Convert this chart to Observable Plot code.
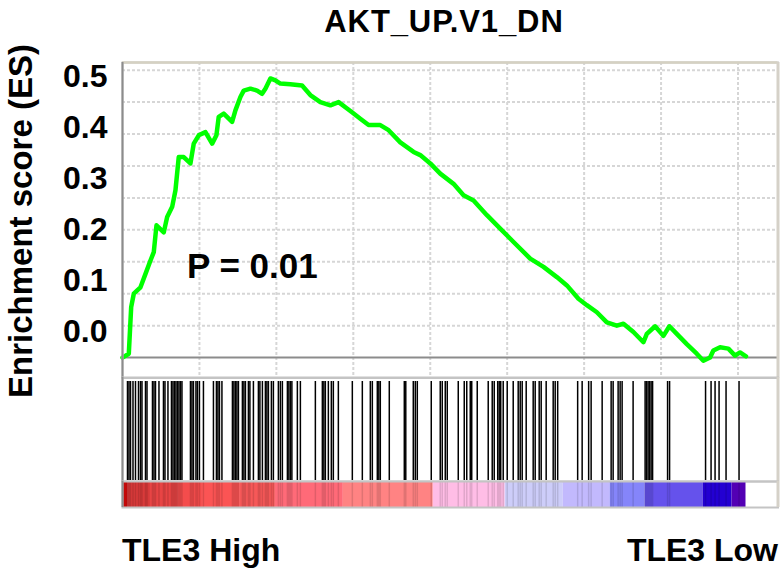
<!DOCTYPE html>
<html>
<head>
<meta charset="utf-8">
<script src="https://cdn.jsdelivr.net/npm/d3@7"></script>
<script src="https://cdn.jsdelivr.net/npm/@observablehq/plot@0.6"></script>
<style>
  html, body { margin: 0; padding: 0; background: #fff; }
  #chart { position: relative; width: 781px; height: 569px; overflow: hidden; background: #fff;
           font-family: "Liberation Sans", Arial, sans-serif; font-weight: bold; color: #000; }
  #chart > svg, #chart > div { position: absolute; }
  .txt { white-space: nowrap; line-height: 1; }
</style>
</head>
<body>
<div id="chart"></div>
<script>
// ---------- data ----------
const titleText = "AKT_UP.V1_DN";
const yTitle = "Enrichment score (ES)";
const pText = "P = 0.01";
const leftLabel = "TLE3 High";
const rightLabel = "TLE3 Low";

// running enrichment score: gene rank in ranked list and ES value
const esRank = [0,205,282,367,584,747,909,1016,1104,1341,1451,1614,1721,1828,1990,2208,2315,2477,2695,2913,3052,3127,3289,3562,3669,3831,3939,4156,4374,4536,4643,4806,4968,5130,5455,5835,6104,6429,6754,7023,7296,7458,7728,7997,8377,8647,9027,9459,9676,10001,10325,10757,11082,11407,11842,12274,12706,13248,13680,14115,14440,14816,15089,15414,15739,16063,16278,16602,16927,17037,17307,17576,17771,18011,18336,18660,18875,19093,19200,19417,19687,19904,20066,20260];
const esScore = [0,0.006,0.079,0.100,0.110,0.131,0.152,0.165,0.207,0.196,0.220,0.236,0.262,0.314,0.314,0.304,0.335,0.348,0.353,0.335,0.348,0.377,0.382,0.369,0.387,0.408,0.418,0.421,0.418,0.413,0.421,0.437,0.434,0.429,0.428,0.426,0.411,0.400,0.395,0.400,0.390,0.384,0.374,0.364,0.364,0.356,0.337,0.322,0.317,0.304,0.288,0.272,0.254,0.246,0.223,0.202,0.181,0.155,0.142,0.126,0.113,0.092,0.082,0.071,0.055,0.050,0.053,0.040,0.024,0.037,0.049,0.034,0.049,0.037,0.021,0.006,-0.005,0.000,0.011,0.016,0.014,0.003,0.008,0.002];

// ranks of the gene-set members (hits)
const hitRanks = [162,211,260,341,422,520,584,633,747,796,974,1023,1072,1185,1331,1380,1477,1591,1640,1688,1737,1786,1835,1883,1932,2208,2257,2305,2387,2435,2500,2630,2955,3052,3101,3150,3231,3572,3620,3669,3718,3767,3896,3945,3994,4091,4140,4254,4416,4465,4546,4643,4692,4741,4838,4903,5065,5130,5195,5358,5406,5455,5504,5682,5780,6267,6494,6543,6591,6689,6786,6851,7014,7468,7793,8053,8118,8280,8329,8377,8669,9157,9205,9449,9514,9579,10033,10325,10390,10488,10553,10910,11105,11186,11300,11348,11527,11884,12014,12079,12192,12241,12290,12371,12501,12696,12858,12923,12988,13118,13345,13410,13540,13605,13767,13995,14060,14141,14790,14936,15147,15228,15586,15878,15943,16105,16170,16235,16592,16982,17030,17079,17128,17177,17225,17712,17777,18946,19125,19255,19385,19612,20034];

// ranked-list metric colour bar: segments (rank start, rank end, metric level)
const segStart  = [0,   162,  909,  1818, 2598, 3831, 4968, 7176,  10098, 12436, 14319, 15846, 16982, 18865, 19807];
const segEnd    = [162, 909,  1818, 2598, 3831, 4968, 7176, 10098, 12436, 14319, 15846, 16982, 18865, 19807, 20260];
const segMetric = [0.95,0.8,  0.65, 0.55, 0.45, 0.38, 0.25, 0.15,  0.05,  -0.05, -0.15, -0.3,  -0.5,  -0.75, -0.95];

// axis ticks / grid
const rankDomain = [0, 21300];
const rankGrid = [2500,5000,7500,10000,12500,15000,17500,20000];
const esDomain = [-0.032, 0.462];
const esGrid = [0.05,0.10,0.15,0.20,0.25,0.30,0.35,0.40,0.45];
const esTickLabels = [0.0,0.1,0.2,0.3,0.4,0.5];

// ---------- styles ----------
const metricColors = ["#c40808","#d93a3a","#e84444","#f44c4c","#fb5454","#f65858","#ff6a78","#ff8383","#ffbde6","#cdcdf9","#c2b9fd","#8585fa","#6552ec","#2300d2","#5300b4"];
const W = 781, ML = 122, MR = 3.5;
const svgStyle = {background: "transparent", overflow: "visible", fontFamily: "'Liberation Sans', Arial, sans-serif"};
const gridStyle = {stroke: "#d6d6d6", strokeWidth: 2, strokeDasharray: "3,2"};
const borders = (top) => [
  Plot.frame({stroke: "#c4c4c4", strokeWidth: 2}),
  ...(top ? [Plot.ruleY([esDomain[1]], {stroke: "#d5d1c2", strokeWidth: 2.5})] : []),
  Plot.ruleX([rankDomain[0]], {stroke: "#8c8c8c", strokeWidth: 2}),
  Plot.ruleX([rankDomain[1]], {stroke: "#d5d1c8", strokeWidth: 3})
];

const chart = document.getElementById("chart");
function place(el, top, left) { el.style.top = top + "px"; el.style.left = left + "px"; chart.appendChild(el); }

// ---------- upper panel: running ES ----------
const esData = esRank.map((r, i) => ({rank: r, es: esScore[i]}));
const plotA = Plot.plot({
  width: W, height: 380, marginLeft: ML, marginRight: MR, marginTop: 62, marginBottom: 2.5,
  x: {domain: rankDomain, axis: null},
  y: {domain: esDomain, axis: null},
  style: svgStyle,
  marks: [
    Plot.ruleY(esGrid, gridStyle),
    Plot.ruleX(rankGrid, gridStyle),
    Plot.ruleY([0], {stroke: "#8c8c8c", strokeWidth: 2}),
    Plot.line(esData, {x: "rank", y: "es", stroke: "#00ff00", strokeWidth: 4.5, strokeLinejoin: "round", strokeLinecap: "round"}),
    ...borders(true)
  ]
});
place(plotA, 0, 0);

// ---------- y tick labels (hand-placed in the original figure) ----------
const plotB = Plot.plot({
  width: 122, height: 360, marginLeft: 112, marginRight: 0, marginTop: 76, marginBottom: 29,
  y: {domain: [0, 0.5]},
  style: svgStyle,
  marks: [
    Plot.axisY(esTickLabels, {anchor: "left", tickSize: 0, tickPadding: 5, tickFormat: d3.format(".1f"),
      fontSize: 32, fontWeight: "bold", fill: "#000", label: null})
  ]
});
place(plotB, 0, 0);

// ---------- hits panel ----------
const plotC = Plot.plot({
  width: W, height: 104, marginLeft: ML, marginRight: MR, marginTop: 0, marginBottom: 0,
  x: {domain: rankDomain, axis: null},
  style: svgStyle,
  marks: [
    Plot.ruleX(hitRanks, {stroke: "#000", strokeWidth: 1.5, insetTop: 4, insetBottom: 1}),
    ...borders(false)
  ]
});
place(plotC, 377, 0);

// ---------- ranked list metric colour bar ----------
const segData = segStart.map((s, i) => ({start: s, end: segEnd[i], metric: segMetric[i]}));
const plotD = Plot.plot({
  width: W, height: 26, marginLeft: ML, marginRight: MR, marginTop: 0, marginBottom: 0,
  x: {domain: rankDomain, axis: null},
  color: {type: "ordinal", domain: segMetric, range: metricColors},
  style: svgStyle,
  marks: [
    Plot.rectX(segData, {x1: "start", x2: "end", fill: "metric"}),
    Plot.ruleX(hitRanks, {stroke: "#000", strokeOpacity: 0.12, strokeWidth: 1.5}),
    ...borders(false)
  ]
});
place(plotD, 481, 0);

// ---------- texts ----------
function txt(s, size, css) {
  const d = document.createElement("div");
  d.className = "txt"; d.textContent = s; d.style.fontSize = size + "px";
  Object.assign(d.style, css || {});
  return d;
}
// title (baseline ~32)
place(txt(titleText, 31, {transform: "translateX(-50%)", letterSpacing: "0.9px"}), 32 - 0.8465 * 31, 444);
// P value (baseline ~278)
place(txt(pText, 35), 278 - 0.8465 * 35, 187);
// group labels (baseline ~561)
place(txt(leftLabel, 32), 561 - 0.8465 * 32, 122);
const rl = txt(rightLabel, 32, {left: "auto", right: "3px"});
rl.style.top = (561 - 0.8465 * 32) + "px"; chart.appendChild(rl); rl.style.left = "auto";
// rotated y title centred at (20, 221)
place(txt(yTitle, 33, {transform: "translate(-50%,-50%) rotate(-90deg)"}), 221, 20);
</script>
</body>
</html>
